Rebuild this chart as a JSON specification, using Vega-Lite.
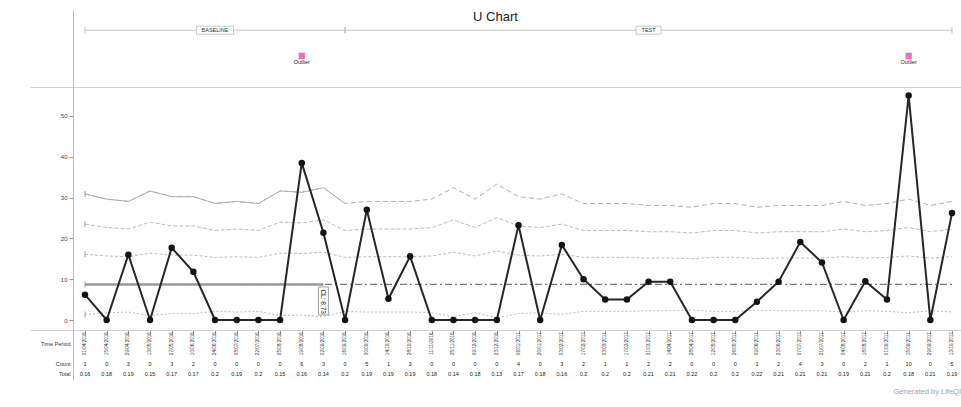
{
  "$schema": "https://vega.github.io/schema/vega-lite/v6.json",
  "padding": {"left": 30, "top": 10, "right": 0, "bottom": 4},
  "background": "white",
  "bounds": "flush",
  "spacing": 0,
  "title": {"text": "U Chart", "anchor": "middle", "offset": -14, "fontSize": 13, "fontWeight": "normal", "color": "#222"},
  "config": {"font": "Liberation Sans", "view": {"stroke": null}, "axis": {"grid": false, "title": null}},
  "datasets": {
    "main": [
      {"i": 0, "date": "01/04/2016", "count": 1, "total": 0.16, "u": 6.2, "ucl": 30.89, "u2": 23.5, "u1": 16.12, "l1": 1.34, "cl": 8.73, "phase": "BASELINE"},
      {"i": 1, "date": "15/04/2016", "count": 0, "total": 0.18, "u": 0, "ucl": 29.62, "u2": 22.66, "u1": 15.69, "l1": 1.77, "cl": 8.73, "phase": "BASELINE"},
      {"i": 2, "date": "29/04/2016", "count": 3, "total": 0.19, "u": 16.0, "ucl": 29.06, "u2": 22.29, "u1": 15.51, "l1": 1.95, "cl": 8.73, "phase": "BASELINE"},
      {"i": 3, "date": "13/05/2016", "count": 0, "total": 0.15, "u": 0, "ucl": 31.62, "u2": 23.99, "u1": 16.36, "l1": 1.1, "cl": 8.73, "phase": "BASELINE"},
      {"i": 4, "date": "27/05/2016", "count": 3, "total": 0.17, "u": 17.7, "ucl": 30.23, "u2": 23.06, "u1": 15.9, "l1": 1.56, "cl": 8.73, "phase": "BASELINE"},
      {"i": 5, "date": "10/06/2016", "count": 2, "total": 0.17, "u": 11.8, "ucl": 30.23, "u2": 23.06, "u1": 15.9, "l1": 1.56, "cl": 8.73, "phase": "BASELINE"},
      {"i": 6, "date": "24/06/2016", "count": 0, "total": 0.2, "u": 0, "ucl": 28.55, "u2": 21.94, "u1": 15.34, "l1": 2.12, "cl": 8.73, "phase": "BASELINE"},
      {"i": 7, "date": "08/07/2016", "count": 0, "total": 0.19, "u": 0, "ucl": 29.06, "u2": 22.29, "u1": 15.51, "l1": 1.95, "cl": 8.73, "phase": "BASELINE"},
      {"i": 8, "date": "22/07/2016", "count": 0, "total": 0.2, "u": 0, "ucl": 28.55, "u2": 21.94, "u1": 15.34, "l1": 2.12, "cl": 8.73, "phase": "BASELINE"},
      {"i": 9, "date": "05/08/2016", "count": 0, "total": 0.15, "u": 0, "ucl": 31.62, "u2": 23.99, "u1": 16.36, "l1": 1.1, "cl": 8.73, "phase": "BASELINE"},
      {"i": 10, "date": "19/08/2016", "count": 6, "total": 0.16, "u": 38.5, "ucl": 31.3, "u2": 23.8, "u1": 16.3, "l1": 1.2, "cl": 8.73, "phase": "BASELINE"},
      {"i": 11, "date": "02/09/2016", "count": 3, "total": 0.14, "u": 21.4, "ucl": 32.42, "u2": 24.52, "u1": 16.63, "l1": 0.83, "cl": 8.73, "phase": "BASELINE"},
      {"i": 12, "date": "16/09/2016", "count": 0, "total": 0.2, "u": 0, "ucl": 28.55, "u2": 21.94, "u1": 15.34, "l1": 2.12, "cl": 8.73, "phase": "BASELINE"},
      {"i": 13, "date": "30/09/2016", "count": 5, "total": 0.19, "u": 27.0, "ucl": 29.06, "u2": 22.29, "u1": 15.51, "l1": 1.95, "cl": 8.73, "phase": "TEST"},
      {"i": 14, "date": "14/10/2016", "count": 1, "total": 0.19, "u": 5.2, "ucl": 29.06, "u2": 22.29, "u1": 15.51, "l1": 1.95, "cl": 8.73, "phase": "TEST"},
      {"i": 15, "date": "28/10/2016", "count": 3, "total": 0.19, "u": 15.6, "ucl": 29.06, "u2": 22.29, "u1": 15.51, "l1": 1.95, "cl": 8.73, "phase": "TEST"},
      {"i": 16, "date": "11/11/2016", "count": 0, "total": 0.18, "u": 0, "ucl": 29.62, "u2": 22.66, "u1": 15.69, "l1": 1.77, "cl": 8.73, "phase": "TEST"},
      {"i": 17, "date": "25/11/2016", "count": 0, "total": 0.14, "u": 0, "ucl": 32.42, "u2": 24.52, "u1": 16.63, "l1": 0.83, "cl": 8.73, "phase": "TEST"},
      {"i": 18, "date": "09/12/2016", "count": 0, "total": 0.18, "u": 0, "ucl": 29.62, "u2": 22.66, "u1": 15.69, "l1": 1.77, "cl": 8.73, "phase": "TEST"},
      {"i": 19, "date": "23/12/2016", "count": 0, "total": 0.13, "u": 0, "ucl": 33.31, "u2": 25.12, "u1": 16.93, "l1": 0.54, "cl": 8.73, "phase": "TEST"},
      {"i": 20, "date": "06/01/2017", "count": 4, "total": 0.17, "u": 23.2, "ucl": 30.23, "u2": 23.06, "u1": 15.9, "l1": 1.56, "cl": 8.73, "phase": "TEST"},
      {"i": 21, "date": "20/01/2017", "count": 0, "total": 0.18, "u": 0, "ucl": 29.62, "u2": 22.66, "u1": 15.69, "l1": 1.77, "cl": 8.73, "phase": "TEST"},
      {"i": 22, "date": "03/02/2017", "count": 3, "total": 0.16, "u": 18.4, "ucl": 30.89, "u2": 23.5, "u1": 16.12, "l1": 1.34, "cl": 8.73, "phase": "TEST"},
      {"i": 23, "date": "17/02/2017", "count": 2, "total": 0.2, "u": 10.0, "ucl": 28.55, "u2": 21.94, "u1": 15.34, "l1": 2.12, "cl": 8.73, "phase": "TEST"},
      {"i": 24, "date": "03/03/2017", "count": 1, "total": 0.2, "u": 5.0, "ucl": 28.55, "u2": 21.94, "u1": 15.34, "l1": 2.12, "cl": 8.73, "phase": "TEST"},
      {"i": 25, "date": "17/03/2017", "count": 1, "total": 0.2, "u": 5.0, "ucl": 28.55, "u2": 21.94, "u1": 15.34, "l1": 2.12, "cl": 8.73, "phase": "TEST"},
      {"i": 26, "date": "31/03/2017", "count": 2, "total": 0.21, "u": 9.4, "ucl": 28.07, "u2": 21.63, "u1": 15.18, "l1": 2.28, "cl": 8.73, "phase": "TEST"},
      {"i": 27, "date": "14/04/2017", "count": 2, "total": 0.21, "u": 9.4, "ucl": 28.07, "u2": 21.63, "u1": 15.18, "l1": 2.28, "cl": 8.73, "phase": "TEST"},
      {"i": 28, "date": "28/04/2017", "count": 0, "total": 0.22, "u": 0, "ucl": 27.63, "u2": 21.33, "u1": 15.03, "l1": 2.43, "cl": 8.73, "phase": "TEST"},
      {"i": 29, "date": "12/05/2017", "count": 0, "total": 0.2, "u": 0, "ucl": 28.55, "u2": 21.94, "u1": 15.34, "l1": 2.12, "cl": 8.73, "phase": "TEST"},
      {"i": 30, "date": "26/05/2017", "count": 0, "total": 0.2, "u": 0, "ucl": 28.55, "u2": 21.94, "u1": 15.34, "l1": 2.12, "cl": 8.73, "phase": "TEST"},
      {"i": 31, "date": "09/06/2017", "count": 1, "total": 0.22, "u": 4.5, "ucl": 27.63, "u2": 21.33, "u1": 15.03, "l1": 2.43, "cl": 8.73, "phase": "TEST"},
      {"i": 32, "date": "23/06/2017", "count": 2, "total": 0.21, "u": 9.4, "ucl": 28.07, "u2": 21.63, "u1": 15.18, "l1": 2.28, "cl": 8.73, "phase": "TEST"},
      {"i": 33, "date": "07/07/2017", "count": 4, "total": 0.21, "u": 19.1, "ucl": 28.07, "u2": 21.63, "u1": 15.18, "l1": 2.28, "cl": 8.73, "phase": "TEST"},
      {"i": 34, "date": "21/07/2017", "count": 3, "total": 0.21, "u": 14.1, "ucl": 28.07, "u2": 21.63, "u1": 15.18, "l1": 2.28, "cl": 8.73, "phase": "TEST"},
      {"i": 35, "date": "04/08/2017", "count": 0, "total": 0.19, "u": 0, "ucl": 29.06, "u2": 22.29, "u1": 15.51, "l1": 1.95, "cl": 8.73, "phase": "TEST"},
      {"i": 36, "date": "18/08/2017", "count": 2, "total": 0.21, "u": 9.5, "ucl": 28.07, "u2": 21.63, "u1": 15.18, "l1": 2.28, "cl": 8.73, "phase": "TEST"},
      {"i": 37, "date": "01/09/2017", "count": 1, "total": 0.2, "u": 5.0, "ucl": 28.55, "u2": 21.94, "u1": 15.34, "l1": 2.12, "cl": 8.73, "phase": "TEST"},
      {"i": 38, "date": "15/09/2017", "count": 10, "total": 0.18, "u": 55.0, "ucl": 29.62, "u2": 22.66, "u1": 15.69, "l1": 1.77, "cl": 8.73, "phase": "TEST"},
      {"i": 39, "date": "29/09/2017", "count": 0, "total": 0.21, "u": 0, "ucl": 28.07, "u2": 21.63, "u1": 15.18, "l1": 2.28, "cl": 8.73, "phase": "TEST"},
      {"i": 40, "date": "13/10/2017", "count": 5, "total": 0.19, "u": 26.2, "ucl": 29.06, "u2": 22.29, "u1": 15.51, "l1": 1.95, "cl": 8.73, "phase": "TEST"}
    ],
    "phases": [
      {"phase": "BASELINE", "i": 0, "end": 12},
      {"phase": "TEST", "i": 12, "end": 40}
    ],
    "phaseLabels": [
      {"phase": "BASELINE", "i": 6},
      {"phase": "TEST", "i": 26}
    ]
  },
  "vconcat": [
    {
      "width": 931,
      "height": 77,
      "encoding": {
        "x": {"field": "i", "type": "quantitative",
          "scale": {"domain": [-2.5375, 40.415], "nice": false, "zero": false},
          "axis": {"orient": "bottom", "labels": false, "ticks": false, "domainColor": "#cfcfcf", "title": null}}
      },
      "layer": [
        {
          "data": {"name": "phases"},
          "mark": {"type": "rule", "stroke": "#c8c8c8", "strokeWidth": 1},
          "encoding": {
            "x2": {"field": "end"},
            "y": {"datum": "phase", "type": "ordinal", "scale": {"type": "point", "domain": ["phase", "outlier"], "padding": 3, "align": 0.394},
              "axis": {"offset": -43, "labels": false, "ticks": false, "domainColor": "#bdbdbd", "title": null}}
          }
        },
        {
          "data": {"name": "phases"},
          "transform": [{"fold": ["i", "end"], "as": ["k", "i"]}],
          "mark": {"type": "point", "shape": "M0,-1L0,1", "filled": false, "stroke": "#bdbdbd", "strokeWidth": 1, "size": 36, "opacity": 1},
          "encoding": {
            "y": {"datum": "phase", "type": "ordinal", "scale": {"type": "point", "domain": ["phase", "outlier"], "padding": 3, "align": 0.394}}
          }
        },
        {
          "data": {"name": "phaseLabels"},
          "transform": [{"filter": {"field": "phase", "equal": "BASELINE"}}],
          "mark": {"type": "point", "shape": "M-1,-0.216L1,-0.216L1,0.216L-1,0.216Z", "filled": true, "fill": "white", "stroke": "#bbbbbb", "strokeWidth": 0.8, "size": 1369, "opacity": 1},
          "encoding": {
            "y": {"datum": "phase", "type": "ordinal", "scale": {"type": "point", "domain": ["phase", "outlier"], "padding": 3, "align": 0.394}}
          }
        },
        {
          "data": {"name": "phaseLabels"},
          "transform": [{"filter": {"field": "phase", "equal": "TEST"}}],
          "mark": {"type": "point", "shape": "M-1,-0.32L1,-0.32L1,0.32L-1,0.32Z", "filled": true, "fill": "white", "stroke": "#bbbbbb", "strokeWidth": 0.8, "size": 625, "opacity": 1},
          "encoding": {
            "y": {"datum": "phase", "type": "ordinal", "scale": {"type": "point", "domain": ["phase", "outlier"], "padding": 3, "align": 0.394}}
          }
        },
        {
          "data": {"name": "phaseLabels"},
          "mark": {"type": "text", "fontSize": 5.5, "color": "#333", "baseline": "middle", "align": "center"},
          "encoding": {
            "y": {"datum": "phase", "type": "ordinal", "scale": {"type": "point", "domain": ["phase", "outlier"], "padding": 3, "align": 0.394}},
            "text": {"field": "phase"}
          }
        },
        {
          "data": {"name": "main"},
          "transform": [{"filter": "datum.u > datum.ucl"}],
          "mark": {"type": "point", "shape": "square", "filled": true, "color": "#f46fb6", "size": 40, "opacity": 1},
          "encoding": {
            "y": {"datum": "outlier", "type": "ordinal", "scale": {"type": "point", "domain": ["phase", "outlier"], "padding": 3, "align": 0.394}}
          }
        },
        {
          "data": {"name": "main"},
          "transform": [{"filter": "datum.u > datum.ucl"}],
          "mark": {"type": "text", "text": "Outlier", "fontSize": 5.5, "color": "#222", "baseline": "middle", "dy": 6.5},
          "encoding": {
            "y": {"datum": "outlier", "type": "ordinal", "scale": {"type": "point", "domain": ["phase", "outlier"], "padding": 3, "align": 0.394}}
          }
        }
      ]
    },
    {
      "width": 931,
      "height": 243,
      "data": {"name": "main"},
      "encoding": {
        "x": {"field": "i", "type": "quantitative",
          "scale": {"domain": [-2.5375, 40.415], "nice": false, "zero": false},
          "axis": {"orient": "bottom", "labels": false, "ticks": true, "values": [0,1,2,3,4,5,6,7,8,9,10,11,12,13,14,15,16,17,18,19,20,21,22,23,24,25,26,27,28,29,30,31,32,33,34,35,36,37,38,39,40], "tickSize": 4, "tickColor": "#999", "domainColor": "#cfcfcf", "title": null}}
      },
      "layer": [
        {
          "transform": [{"fold": ["u2", "u1", "l1"], "as": ["lim", "val"]}],
          "mark": {"type": "line", "stroke": "#bdbdbd", "strokeWidth": 1},
          "encoding": {
            "y": {"field": "val", "type": "quantitative", "scale": {"domain": [-2.45, 57.1], "nice": false, "zero": false},
              "axis": {"offset": -43, "values": [0, 5, 10, 15, 20, 25, 30, 35, 40, 45, 50], "tickSize": 4, "tickColor": "#999", "labelFontSize": 6, "labelPadding": 2, "labelColor": "#444", "domainColor": "#bdbdbd", "title": null}},
            "strokeDash": {"field": "lim", "type": "nominal", "scale": {"domain": ["u2", "u1", "l1"], "range": [[4, 2], [3, 2], [2, 2]]}, "legend": null}
          }
        },
        {
          "mark": {"type": "line", "stroke": "#b0b0b0", "strokeWidth": 1, "strokeDash": [5, 3]},
          "encoding": {"y": {"field": "ucl", "type": "quantitative", "scale": {"domain": [-2.45, 57.1], "nice": false, "zero": false}}}
        },
        {
          "transform": [{"filter": {"field": "phase", "equal": "BASELINE"}}],
          "mark": {"type": "line", "stroke": "#b0b0b0", "strokeWidth": 1},
          "encoding": {"y": {"field": "ucl", "type": "quantitative", "scale": {"domain": [-2.45, 57.1], "nice": false, "zero": false}}}
        },
        {
          "mark": {"type": "line", "stroke": "#7a7a7a", "strokeWidth": 1.4, "strokeDash": [7, 3, 2, 3]},
          "encoding": {"y": {"field": "cl", "type": "quantitative", "scale": {"domain": [-2.45, 57.1], "nice": false, "zero": false}}}
        },
        {
          "transform": [{"filter": "datum.i <= 11"}],
          "mark": {"type": "line", "stroke": "#9a9a9a", "strokeWidth": 2.5},
          "encoding": {"y": {"field": "cl", "type": "quantitative", "scale": {"domain": [-2.45, 57.1], "nice": false, "zero": false}}}
        },
        {
          "transform": [
            {"filter": "datum.i == 0"},
            {"fold": ["ucl", "u2", "u1", "l1", "cl"], "as": ["lim", "val"]}
          ],
          "mark": {"type": "point", "shape": "M0,-1L0,1", "filled": false, "stroke": "#999", "strokeWidth": 1, "size": 36, "opacity": 1},
          "encoding": {"y": {"field": "val", "type": "quantitative", "scale": {"domain": [-2.45, 57.1], "nice": false, "zero": false}}}
        },
        {
          "transform": [{"filter": "datum.i == 11"}],
          "mark": {"type": "point", "shape": "M-0.333,0.173L0.333,0.173L0.333,2.04L-0.333,2.04Z", "filled": true, "fill": "white", "stroke": "#888", "strokeWidth": 0.8, "size": 900, "opacity": 1},
          "encoding": {"y": {"field": "cl", "type": "quantitative", "scale": {"domain": [-2.45, 57.1], "nice": false, "zero": false}}}
        },
        {
          "transform": [{"filter": "datum.i == 11"}],
          "mark": {"type": "text", "text": "CL: 8.73", "angle": 90, "align": "left", "baseline": "middle", "dx": 5, "fontSize": 6.5, "color": "#222"},
          "encoding": {"y": {"field": "cl", "type": "quantitative", "scale": {"domain": [-2.45, 57.1], "nice": false, "zero": false}}}
        },
        {
          "mark": {"type": "line", "stroke": "#262626", "strokeWidth": 2},
          "encoding": {"y": {"field": "u", "type": "quantitative", "scale": {"domain": [-2.45, 57.1], "nice": false, "zero": false}}}
        },
        {
          "mark": {"type": "point", "shape": "circle", "filled": true, "color": "#141414", "size": 42, "opacity": 1},
          "encoding": {"y": {"field": "u", "type": "quantitative", "scale": {"domain": [-2.45, 57.1], "nice": false, "zero": false}}}
        }
      ]
    },
    {
      "width": 931,
      "height": 50,
      "data": {"name": "main"},
      "title": {"text": "Generated by LifeQI", "orient": "bottom", "anchor": "end", "fontSize": 7.5, "fontWeight": "normal", "color": "#9aa6b8", "offset": 8},
      "encoding": {
        "x": {"field": "i", "type": "quantitative",
          "scale": {"domain": [-2.5375, 40.415], "nice": false, "zero": false},
          "axis": null}
      },
      "layer": [
        {
          "mark": {"type": "text", "angle": 270, "align": "center", "baseline": "middle", "fontSize": 4.6, "color": "#333"},
          "encoding": {
            "y": {"datum": "Time Period", "type": "ordinal", "scale": {"type": "point", "domain": ["Time Period", "_", "Count", "Total"], "padding": 2.406, "align": 0.682},
              "axis": {"offset": -43, "ticks": false, "labelExpr": "datum.value == '_' ? '' : datum.value", "labelFontSize": 5.5, "labelPadding": 3, "labelColor": "#333", "domainColor": "#bdbdbd", "title": null}},
            "text": {"field": "date"}
          }
        },
        {
          "mark": {"type": "text", "align": "center", "baseline": "middle", "fontSize": 5.5, "color": "#222"},
          "encoding": {
            "y": {"datum": "Count", "type": "ordinal", "scale": {"type": "point", "domain": ["Time Period", "_", "Count", "Total"], "padding": 2.406, "align": 0.682}},
            "text": {"field": "count", "type": "nominal"}
          }
        },
        {
          "mark": {"type": "text", "align": "center", "baseline": "middle", "fontSize": 5.5, "color": "#222"},
          "encoding": {
            "y": {"datum": "Total", "type": "ordinal", "scale": {"type": "point", "domain": ["Time Period", "_", "Count", "Total"], "padding": 2.406, "align": 0.682}},
            "text": {"field": "total", "type": "nominal"}
          }
        }
      ]
    }
  ]
}
